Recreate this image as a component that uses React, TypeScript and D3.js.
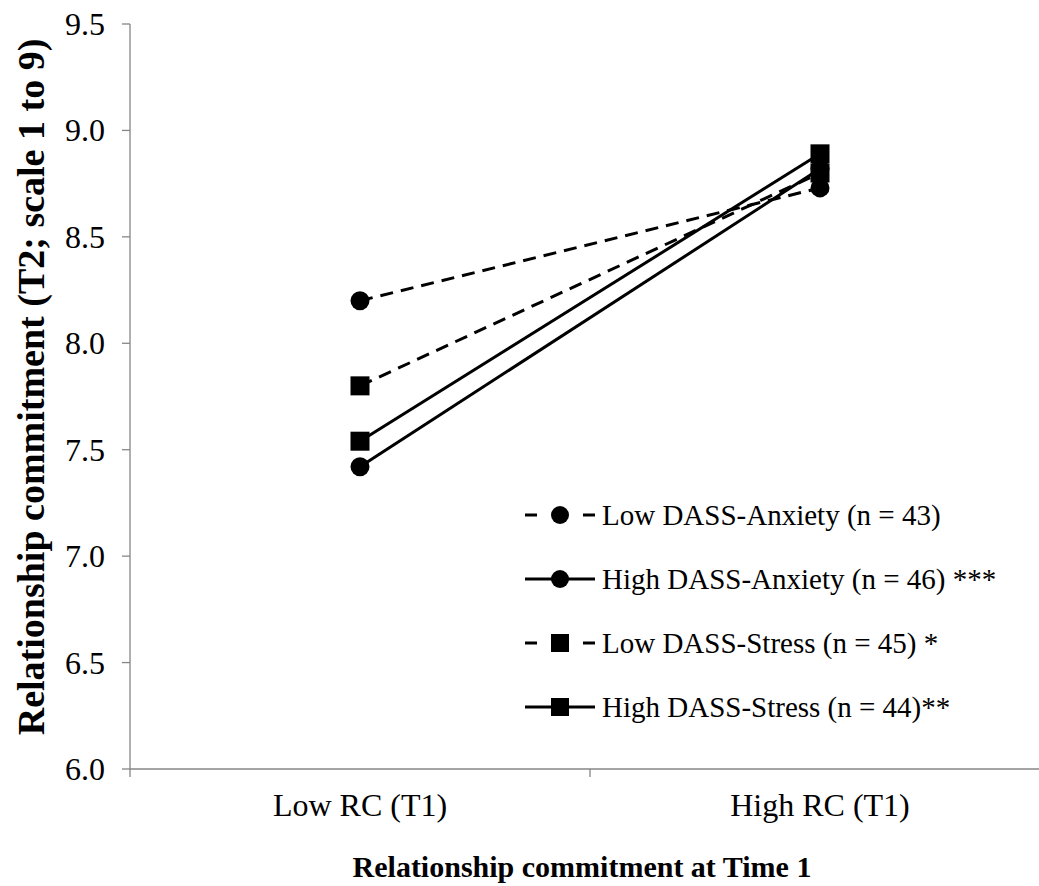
import React from "react";
import * as d3 from "d3";

const categories = ["Low RC (T1)", "High RC (T1)"];
const seriesNames = [
  "Low DASS-Anxiety (n = 43)",
  "High DASS-Anxiety (n = 46) ***",
  "Low DASS-Stress (n = 45) *",
  "High DASS-Stress (n = 44)**",
];
const seriesDashed = [true, false, true, false];
const seriesMarker = ["circle", "circle", "square", "square"];
const lowAnxiety = [8.2, 8.73];
const highAnxiety = [7.42, 8.82];
const lowStress = [7.8, 8.8];
const highStress = [7.54, 8.89];
const seriesValues = [lowAnxiety, highAnxiety, lowStress, highStress];
const yTicks = [6.0, 6.5, 7.0, 7.5, 8.0, 8.5, 9.0, 9.5];

const W = 1039;
const H = 886;
const FONT = "'Liberation Serif', 'Times New Roman', serif";

export default function App() {
  const left = 130;
  const right = 1050;
  const top = 24;
  const bottom = 769;
  const x = d3.scaleBand<string>().domain(categories).range([left, right]);
  const y = d3.scaleLinear().domain([6, 9.5]).range([bottom, top]);
  const cx = (c: string) => (x(c) as number) + x.bandwidth() / 2;
  const line = d3
    .line<[number, number]>()
    .x((d) => d[0])
    .y((d) => d[1]);
  const axisColor = "#868686";
  const dash = "13,8";

  const marker = (kind: string, px: number, py: number, key: string, s = 19) =>
    kind === "circle" ? (
      <circle key={key} cx={px} cy={py} r={s / 2} fill="#000" />
    ) : (
      <rect key={key} x={px - s / 2} y={py - s / 2} width={s} height={s} fill="#000" />
    );

  const legendX0 = 525;
  const legendX1 = 595;
  const legendYs = [515, 579, 643, 707];

  return (
    <svg
      width={W}
      height={H}
      style={{ position: "absolute", left: 0, top: 0, background: "#fff" }}
      fontFamily={FONT}
    >
      <rect width={W} height={H} fill="#fff" />
      {/* y axis */}
      <line x1={left} x2={left} y1={top} y2={bottom} stroke={axisColor} strokeWidth={1.3} />
      {yTicks.map((t) => (
        <g key={t}>
          <line x1={left - 8} x2={left} y1={y(t)} y2={y(t)} stroke={axisColor} strokeWidth={1.3} />
          <text x={105} y={y(t) + 11} textAnchor="end" fontSize={32} fill="#000">
            {t.toFixed(1)}
          </text>
        </g>
      ))}
      {/* x axis */}
      <line x1={left} x2={right} y1={bottom} y2={bottom} stroke={axisColor} strokeWidth={1.3} />
      {[left, left + x.bandwidth(), right].map((bx, i) => (
        <line key={i} x1={bx} x2={bx} y1={bottom} y2={bottom + 8} stroke={axisColor} strokeWidth={1.3} />
      ))}
      {categories.map((c) => (
        <text key={c} x={cx(c)} y={816} textAnchor="middle" fontSize={32} fill="#000">
          {c}
        </text>
      ))}
      <text x={582} y={877} textAnchor="middle" fontSize={30} fontWeight="bold" fill="#000">
        Relationship commitment at Time 1
      </text>
      <text
        transform={`translate(44, 387) rotate(-90)`}
        textAnchor="middle"
        fontSize={38}
        fontWeight="bold"
        fill="#000"
      >
        Relationship commitment (T2; scale 1 to 9)
      </text>
      {/* series lines */}
      {seriesValues.map((vals, i) => (
        <path
          key={"l" + i}
          d={line(vals.map((v, j) => [cx(categories[j]), y(v)] as [number, number])) || ""}
          fill="none"
          stroke="#000"
          strokeWidth={3}
          strokeDasharray={seriesDashed[i] ? dash : undefined}
        />
      ))}
      {seriesValues.map((vals, i) =>
        vals.map((v, j) => marker(seriesMarker[i], cx(categories[j]), y(v), `m${i}-${j}`))
      )}
      {/* legend */}
      {seriesNames.map((n, i) => (
        <g key={"lg" + i}>
          {seriesDashed[i] ? (
            <>
              <line x1={legendX0} x2={legendX0 + 12} y1={legendYs[i]} y2={legendYs[i]} stroke="#000" strokeWidth={3} />
              <line x1={legendX1 - 12} x2={legendX1} y1={legendYs[i]} y2={legendYs[i]} stroke="#000" strokeWidth={3} />
            </>
          ) : (
            <line x1={legendX0} x2={legendX1} y1={legendYs[i]} y2={legendYs[i]} stroke="#000" strokeWidth={3} />
          )}
          {marker(seriesMarker[i], (legendX0 + legendX1) / 2, legendYs[i], "lm" + i, 18)}
          <text x={602} y={legendYs[i] + 10} fontSize={29} fill="#000">
            {n}
          </text>
        </g>
      ))}
    </svg>
  );
}
